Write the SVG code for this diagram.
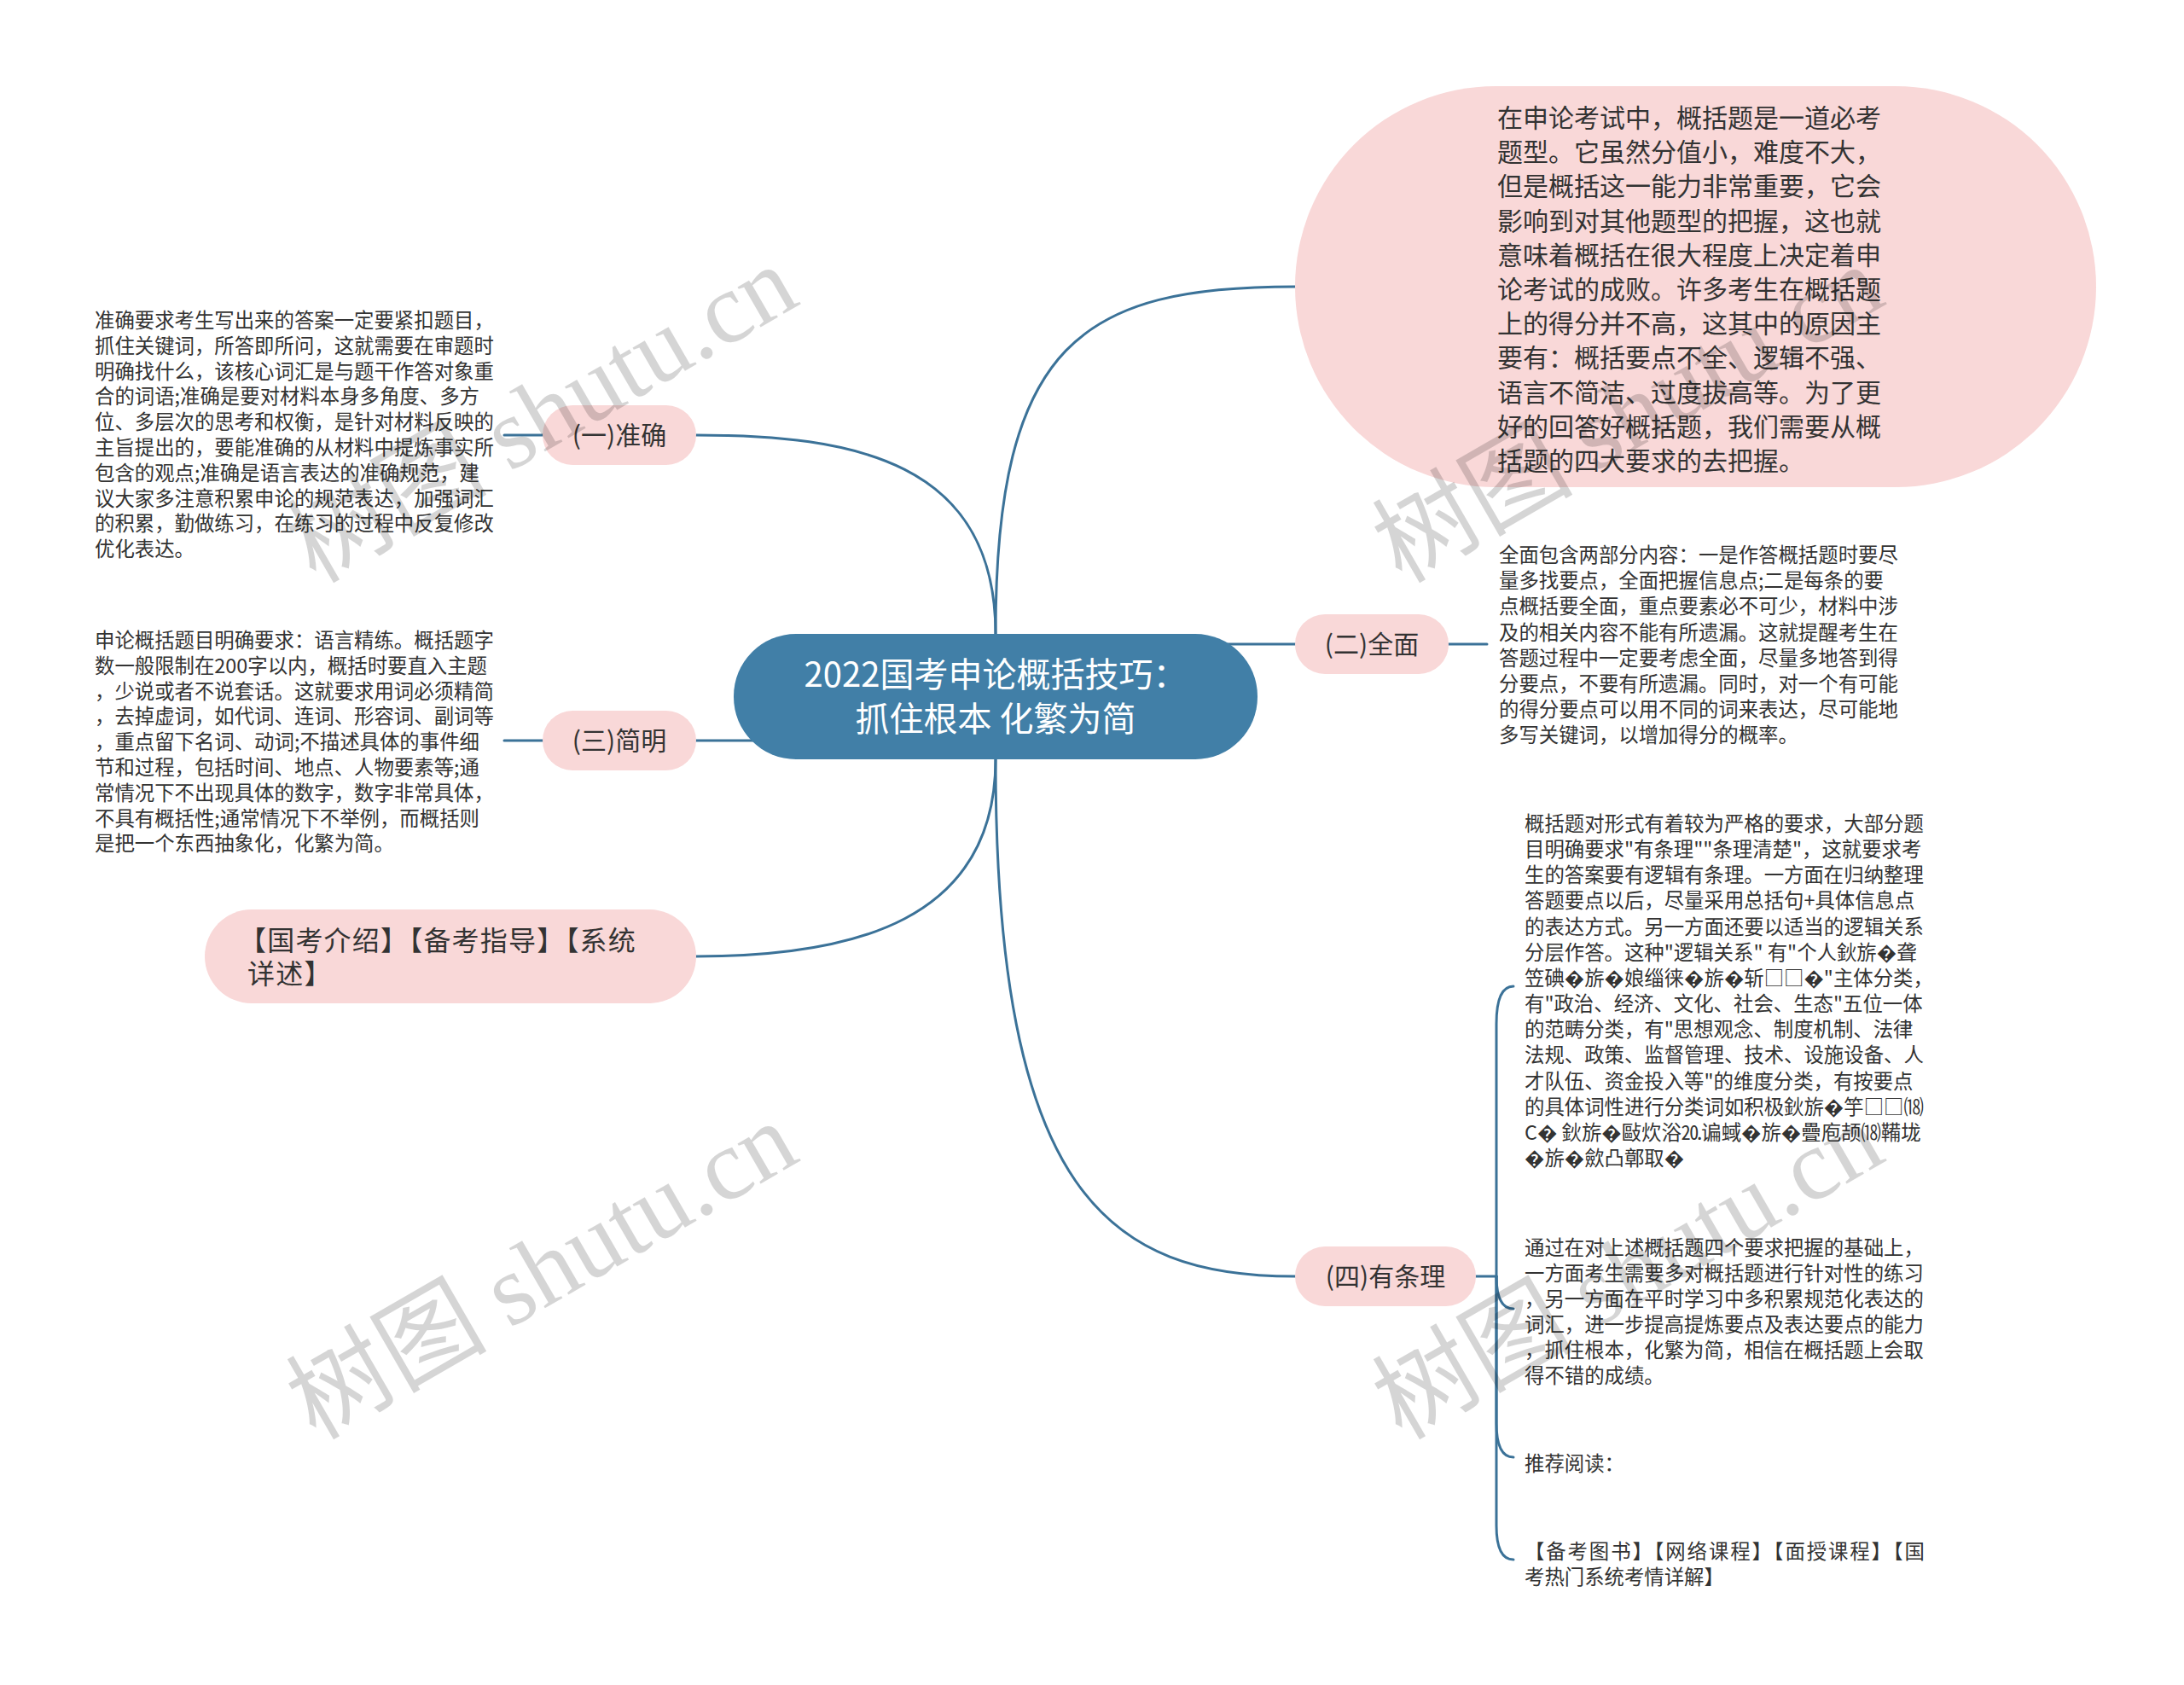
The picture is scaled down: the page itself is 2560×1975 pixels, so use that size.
<svg xmlns="http://www.w3.org/2000/svg" width="2560" height="1975" viewBox="0 0 2560 1975">
<style>
.t{font-family:"Noto Sans CJK SC","Noto Sans",sans-serif;fill:#333333}
.s{font-size:23.4px}
.p{font-size:30px}
.pill{fill:#f9d8d8}
.c{fill:none;stroke:#3b7298;stroke-width:3;stroke-linecap:round}
.wm{font-size:118px;fill:#000000;opacity:0.16}
</style>
<rect width="2560" height="1975" fill="#ffffff"/>
<g id="connectors">
<path class="c" d="M1167,743 C1167,540 1000,510 816,510"/>
<path class="c" d="M1167,743 C1167,400 1270,336 1518,336"/>
<path class="c" d="M1167,755 L1518,755"/>
<path class="c" d="M816,868 L1167,868"/>
<path class="c" d="M1167,890 C1167,1080 1000,1121 816,1121"/>
<path class="c" d="M1167,890 C1167,1400 1300,1496 1518,1496"/>
<path class="c" d="M591,510 L636,510"/>
<path class="c" d="M591,868 L636,868"/>
<path class="c" d="M1698,755 L1743,755"/>
<path class="c" d="M1730,1496 L1754,1496"/>
<path class="c" d="M1754,1496 L1754,1200 Q1754,1156 1774,1156"/>
<path class="c" d="M1754,1496 Q1754,1534 1774,1534"/>
<path class="c" d="M1754,1496 L1754,1668 Q1754,1708 1774,1708"/>
<path class="c" d="M1754,1496 L1754,1788 Q1754,1828 1774,1828"/>
</g>
<g id="root">
<rect x="860" y="743" width="614" height="147" rx="73" fill="#417fa7"/>
<text class="t" x="1167" y="805" font-size="40" text-anchor="middle" style="fill:#ffffff">2022国考申论概括技巧：</text>
<text class="t" x="1167" y="857" font-size="40" text-anchor="middle" style="fill:#ffffff">抓住根本 化繁为简</text>
</g>
<g id="intro">
<rect class="pill" x="1518" y="101" width="939" height="470" rx="235"/>
<text class="t" font-size="30">
<tspan x="1755" y="149">在申论考试中，概括题是一道必考</tspan>
<tspan x="1755" y="189.2">题型。它虽然分值小，难度不大，</tspan>
<tspan x="1755" y="229.4">但是概括这一能力非常重要，它会</tspan>
<tspan x="1755" y="269.6">影响到对其他题型的把握，这也就</tspan>
<tspan x="1755" y="309.8">意味着概括在很大程度上决定着申</tspan>
<tspan x="1755" y="350">论考试的成败。许多考生在概括题</tspan>
<tspan x="1755" y="390.2">上的得分并不高，这其中的原因主</tspan>
<tspan x="1755" y="430.4">要有：概括要点不全、逻辑不强、</tspan>
<tspan x="1755" y="470.6">语言不简洁、过度拔高等。为了更</tspan>
<tspan x="1755" y="510.8">好的回答好概括题，我们需要从概</tspan>
<tspan x="1755" y="551">括题的四大要求的去把握。</tspan>
</text>
</g>
<g id="n1">
<rect class="pill" x="636" y="475" width="180" height="70" rx="35"/>
<text class="t p" x="726" y="521" text-anchor="middle">(一)准确</text>
</g>
<g id="n1-text">
<text class="t s">
<tspan x="111" y="384">准确要求考生写出来的答案一定要紧扣题目，</tspan>
<tspan x="111" y="413.8">抓住关键词，所答即所问，这就需要在审题时</tspan>
<tspan x="111" y="443.6">明确找什么，该核心词汇是与题干作答对象重</tspan>
<tspan x="111" y="473.4">合的词语;准确是要对材料本身多角度、多方</tspan>
<tspan x="111" y="503.2">位、多层次的思考和权衡，是针对材料反映的</tspan>
<tspan x="111" y="533">主旨提出的，要能准确的从材料中提炼事实所</tspan>
<tspan x="111" y="562.8">包含的观点;准确是语言表达的准确规范，建</tspan>
<tspan x="111" y="592.6">议大家多注意积累申论的规范表达，加强词汇</tspan>
<tspan x="111" y="622.4">的积累，勤做练习，在练习的过程中反复修改</tspan>
<tspan x="111" y="652.2">优化表达。</tspan>
</text>
</g>
<g id="n2">
<rect class="pill" x="1518" y="720" width="180" height="70" rx="35"/>
<text class="t p" x="1608" y="766" text-anchor="middle">(二)全面</text>
</g>
<g id="n2-text">
<text class="t s">
<tspan x="1757" y="659">全面包含两部分内容：一是作答概括题时要尽</tspan>
<tspan x="1757" y="689.2">量多找要点，全面把握信息点;二是每条的要</tspan>
<tspan x="1757" y="719.4">点概括要全面，重点要素必不可少，材料中涉</tspan>
<tspan x="1757" y="749.6">及的相关内容不能有所遗漏。这就提醒考生在</tspan>
<tspan x="1757" y="779.8">答题过程中一定要考虑全面，尽量多地答到得</tspan>
<tspan x="1757" y="810">分要点，不要有所遗漏。同时，对一个有可能</tspan>
<tspan x="1757" y="840.2">的得分要点可以用不同的词来表达，尽可能地</tspan>
<tspan x="1757" y="870.4">多写关键词，以增加得分的概率。</tspan>
</text>
</g>
<g id="n3">
<rect class="pill" x="636" y="833" width="180" height="70" rx="35"/>
<text class="t p" x="726" y="879" text-anchor="middle">(三)简明</text>
</g>
<g id="n3-text">
<text class="t s">
<tspan x="111" y="759">申论概括题目明确要求：语言精练。概括题字</tspan>
<tspan x="111" y="788.8">数一般限制在200字以内，概括时要直入主题</tspan>
<tspan x="111" y="818.6">，少说或者不说套话。这就要求用词必须精简</tspan>
<tspan x="111" y="848.4">，去掉虚词，如代词、连词、形容词、副词等</tspan>
<tspan x="111" y="878.2">，重点留下名词、动词;不描述具体的事件细</tspan>
<tspan x="111" y="908">节和过程，包括时间、地点、人物要素等;通</tspan>
<tspan x="111" y="937.8">常情况下不出现具体的数字，数字非常具体，</tspan>
<tspan x="111" y="967.6">不具有概括性;通常情况下不举例，而概括则</tspan>
<tspan x="111" y="997.4">是把一个东西抽象化，化繁为简。</tspan>
</text>
</g>
<g id="n5">
<rect class="pill" x="240" y="1066" width="576" height="110" rx="55"/>
<text class="t" font-size="32" letter-spacing="1.2">
<tspan x="280" y="1114">【国考介绍】【备考指导】【系统</tspan>
<tspan x="290" y="1153">详述】</tspan>
</text>
</g>
<g id="n4">
<rect class="pill" x="1518" y="1461" width="212" height="70" rx="35"/>
<text class="t p" x="1624" y="1507" text-anchor="middle">(四)有条理</text>
</g>
<g id="n4-a">
<text class="t s">
<tspan x="1787" y="974">概括题对形式有着较为严格的要求，大部分题</tspan>
<tspan x="1787" y="1004.15">目明确要求"有条理""条理清楚"，这就要求考</tspan>
<tspan x="1787" y="1034.3">生的答案要有逻辑有条理。一方面在归纳整理</tspan>
<tspan x="1787" y="1064.45">答题要点以后，尽量采用总括句+具体信息点</tspan>
<tspan x="1787" y="1094.6">的表达方式。另一方面还要以适当的逻辑关系</tspan>
<tspan x="1787" y="1124.75">分层作答。这种"逻辑关系" 有"个人鈥旂�聋</tspan>
<tspan x="1787" y="1154.9">笠碘�旂�娘缁徕�旂�斩□□�"主体分类，</tspan>
<tspan x="1787" y="1185.05">有"政治、经济、文化、社会、生态"五位一体</tspan>
<tspan x="1787" y="1215.2">的范畴分类，有"思想观念、制度机制、法律</tspan>
<tspan x="1787" y="1245.35">法规、政策、监督管理、技术、设施设备、人</tspan>
<tspan x="1787" y="1275.5">才队伍、资金投入等"的维度分类，有按要点</tspan>
<tspan x="1787" y="1305.65">的具体词性进行分类词如积极鈥旂�竽□□⒅</tspan>
<tspan x="1787" y="1335.8">C� 鈥旂�敺炊浴⒛谝蜮�旂�疊庖颉⒅鞴垅</tspan>
<tspan x="1787" y="1365.95">�旂�歛凸鄣取�</tspan>
</text>
</g>
<g id="n4-b">
<text class="t s">
<tspan x="1787" y="1471">通过在对上述概括题四个要求把握的基础上，</tspan>
<tspan x="1787" y="1501">一方面考生需要多对概括题进行针对性的练习</tspan>
<tspan x="1787" y="1531">，另一方面在平时学习中多积累规范化表达的</tspan>
<tspan x="1787" y="1561">词汇，进一步提高提炼要点及表达要点的能力</tspan>
<tspan x="1787" y="1591">，抓住根本，化繁为简，相信在概括题上会取</tspan>
<tspan x="1787" y="1621">得不错的成绩。</tspan>
</text>
</g>
<g id="n4-c">
<text class="t s" x="1787" y="1724">推荐阅读：</text>
</g>
<g id="n4-d">
<text class="t s">
<tspan x="1787" y="1827" letter-spacing="1.9">【备考图书】【网络课程】【面授课程】【国</tspan>
<tspan x="1787" y="1857">考热门系统考情详解】</tspan>
</text>
</g>
<g id="watermarks">
<text class="wm" transform="translate(655,520) rotate(-30)" text-anchor="middle"><tspan font-family="Noto Sans CJK SC,sans-serif">树图 </tspan><tspan font-family="Liberation Serif,serif">shutu.cn</tspan></text>
<text class="wm" transform="translate(655,1524) rotate(-30)" text-anchor="middle"><tspan font-family="Noto Sans CJK SC,sans-serif">树图 </tspan><tspan font-family="Liberation Serif,serif">shutu.cn</tspan></text>
<text class="wm" transform="translate(1928,520) rotate(-30)" text-anchor="middle"><tspan font-family="Noto Sans CJK SC,sans-serif">树图 </tspan><tspan font-family="Liberation Serif,serif">shutu.cn</tspan></text>
<text class="wm" transform="translate(1928,1524) rotate(-30)" text-anchor="middle"><tspan font-family="Noto Sans CJK SC,sans-serif">树图 </tspan><tspan font-family="Liberation Serif,serif">shutu.cn</tspan></text>
</g>
</svg>
